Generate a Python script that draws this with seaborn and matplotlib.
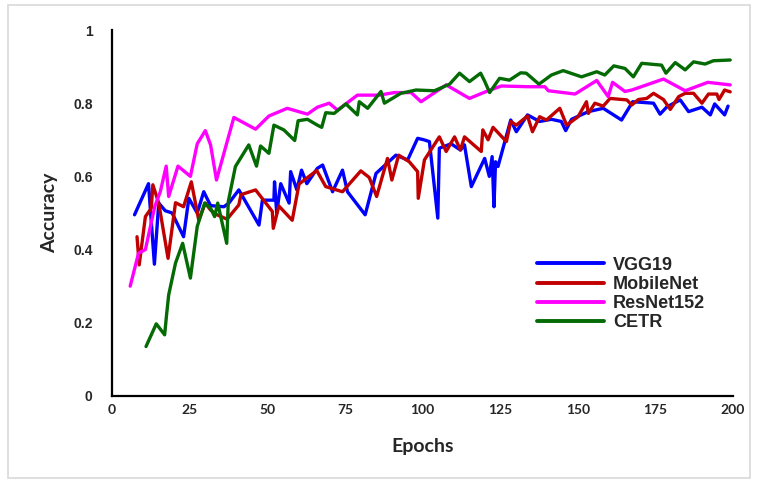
import pandas as pd
import seaborn as sns
import matplotlib.pyplot as plt
from matplotlib.patches import Rectangle

# values
vgg_x = [7.2, 11.7, 13.6, 15, 17.1, 19.3, 23, 24.7, 27.4, 29.5, 31.7, 36, 37.6, 40.8, 47.3,
         48.4, 52.1, 52.3, 53, 54.3, 57, 57.5, 59.5, 61, 62.7, 66.1, 67.8, 71, 74.2, 75.8,
         81.5, 85, 91.4, 95.2, 98.4, 100.4, 102.2, 104.9, 105.4, 109.2, 112.2, 113.5, 115.7,
         120, 121.5, 122.4, 123, 123.5, 124.3, 128.4, 130.2, 133.8, 137.7, 141.5, 144.7,
         146.1, 148, 153.4, 158.2, 164.1, 167.7, 174.4, 176.5, 178.7, 183, 185.7, 190,
         192.7, 194.1, 197.3, 198.4]
vgg_y = [0.495, 0.58, 0.36, 0.527, 0.506, 0.5, 0.435, 0.54, 0.5, 0.558, 0.52, 0.517, 0.527,
         0.563, 0.467, 0.535, 0.535, 0.585, 0.5, 0.58, 0.527, 0.613, 0.563, 0.617, 0.58,
         0.622, 0.631, 0.558, 0.617, 0.558, 0.495, 0.608, 0.658, 0.645, 0.704, 0.7, 0.695,
         0.486, 0.677, 0.689, 0.672, 0.686, 0.572, 0.649, 0.6, 0.654, 0.517, 0.64, 0.627,
         0.754, 0.722, 0.768, 0.75, 0.756, 0.75, 0.725, 0.756, 0.777, 0.786, 0.754, 0.804,
         0.8, 0.77, 0.79, 0.809, 0.777, 0.789, 0.768, 0.798, 0.768, 0.792]

mob_x = [8, 8.7, 10.7, 12.6, 13.1, 15, 18, 20.4, 23, 25.5, 27.9, 30, 31.7, 33.8, 37, 40.8,
         41.5, 46.2, 51.6, 51.9, 53.7, 58, 60.2, 65.9, 68.8, 74.2, 80.1, 82.8, 85.2, 88.7,
         90.1, 92.3, 95.7, 98.4, 98.6, 100.6, 105.4, 107.6, 110.3, 112.2, 113.5, 118.9,
         119.4, 121.1, 122.7, 127, 128.4, 130.2, 133.8, 135.4, 137.7, 139.9, 144.2, 146.4,
         150.1, 152.8, 153.4, 155.5, 158.2, 160.4, 165.8, 167.4, 169.5, 172.2, 174.4,
         177.6, 179.8, 182.5, 184.6, 187.3, 190, 192.1, 194.8, 195.5, 197.3, 199.1]
mob_y = [0.435, 0.358, 0.49, 0.513, 0.577, 0.527, 0.376, 0.528, 0.517, 0.585, 0.48, 0.527,
         0.508, 0.495, 0.483, 0.522, 0.55, 0.563, 0.504, 0.458, 0.519, 0.48, 0.579, 0.616,
         0.572, 0.558, 0.615, 0.597, 0.545, 0.649, 0.59, 0.658, 0.64, 0.613, 0.54, 0.645,
         0.708, 0.668, 0.708, 0.672, 0.708, 0.668, 0.727, 0.7, 0.734, 0.695, 0.75, 0.74,
         0.765, 0.722, 0.763, 0.754, 0.786, 0.74, 0.763, 0.804, 0.772, 0.8, 0.792, 0.813,
         0.809, 0.795, 0.81, 0.813, 0.827, 0.81, 0.783, 0.818, 0.827, 0.827, 0.8, 0.825,
         0.825, 0.81, 0.836, 0.831]

res_x = [5.8, 8.5, 10.7, 13.7, 15.5, 17.4, 18.2, 21.2, 25.2, 27.4, 30, 31.7, 33.6, 39.2,
         46.2, 50.5, 56.4, 62.9, 66.1, 69.9, 72.6, 79, 86, 90.9, 96.3, 99.5, 107.6, 115.1,
         121.1, 125.4, 134, 139.4, 140.5, 149.1, 156.1, 159.8, 161.2, 165.2, 167.4, 177.6,
         184.6, 191.9, 199.1]
res_y = [0.3, 0.39, 0.4, 0.517, 0.558, 0.628, 0.545, 0.628, 0.6, 0.689, 0.725, 0.686, 0.59,
         0.761, 0.729, 0.765, 0.786, 0.77, 0.789, 0.8, 0.781, 0.822, 0.822, 0.829, 0.829,
         0.804, 0.85, 0.813, 0.834, 0.847, 0.845, 0.845, 0.834, 0.825, 0.862, 0.818, 0.857,
         0.832, 0.836, 0.866, 0.834, 0.857, 0.85]

cetr_x = [10.9, 14.2, 16.9, 17.5, 18.2, 20.4, 22.7, 25.2, 27.4, 29.8, 31.7, 33, 34, 36.9,
          37.4, 39.7, 44, 46.5, 47.8, 50.5, 52.1, 55.3, 58.8, 59.9, 62.9, 66.1, 67.5, 68.8,
          71.5, 75.3, 79, 79.6, 82.3, 86.6, 87.7, 93, 97.9, 103.8, 108.7, 111.9, 115.1,
          118.7, 120, 121.6, 124.8, 128, 131.6, 133.4, 137.5, 141.5, 145.3, 151.2, 156.1,
          158.7, 161.6, 165.2, 167.9, 170.6, 177, 178.4, 181.4, 184.6, 187.3, 191, 193.7,
          199.1]
cetr_y = [0.135, 0.197, 0.167, 0.22, 0.276, 0.363, 0.417, 0.322, 0.463, 0.527, 0.513, 0.49,
          0.527, 0.417, 0.531, 0.627, 0.686, 0.628, 0.683, 0.663, 0.74, 0.727, 0.698, 0.752,
          0.756, 0.74, 0.734, 0.774, 0.772, 0.798, 0.768, 0.804, 0.786, 0.832, 0.8, 0.827,
          0.836, 0.834, 0.852, 0.882, 0.859, 0.882, 0.86, 0.829, 0.868, 0.863, 0.883, 0.882,
          0.852, 0.877, 0.889, 0.872, 0.886, 0.877, 0.902, 0.895, 0.872, 0.909, 0.904, 0.882,
          0.911, 0.891, 0.913, 0.907, 0.916, 0.918]

models = ['VGG19', 'MobileNet', 'ResNet152', 'CETR']
colors = {'VGG19': '#0000FF', 'MobileNet': '#C00000', 'ResNet152': '#FF00FF', 'CETR': '#046A04'}
x_ticks = [0, 25, 50, 75, 100, 125, 150, 175, 200]
y_ticks = [0, 0.2, 0.4, 0.6, 0.8, 1]
y_labels = ['0', '0.2', '0.4', '0.6', '0.8', '1']

frames = []
for name, xs, ys in [('VGG19', vgg_x, vgg_y), ('MobileNet', mob_x, mob_y),
                     ('ResNet152', res_x, res_y), ('CETR', cetr_x, cetr_y)]:
    frames.append(pd.DataFrame({'Epochs': xs, 'Accuracy': ys, 'Model': name}))
df = pd.concat(frames, ignore_index=True)

sns.set_style('white')
fig = plt.figure(figsize=(7.58, 4.84), dpi=100)
ax = fig.add_axes([0.148, 0.182, 0.819, 0.756])

sns.lineplot(data=df, x='Epochs', y='Accuracy', hue='Model', hue_order=models,
             palette=colors, estimator=None, sort=False, linewidth=2.4, ax=ax)

ax.set_xlim(0, 200)
ax.set_ylim(0, 1)
ax.set_xticks(x_ticks)
ax.set_xticklabels([str(t) for t in x_ticks], fontfamily='Lato', fontweight='bold', fontsize=10)
ax.set_yticks(y_ticks)
ax.set_yticklabels(y_labels, fontfamily='Liberation Sans', fontweight='bold', fontsize=10)
ax.tick_params(axis='both', length=0)
ax.tick_params(axis='x', pad=6)
ax.tick_params(axis='y', pad=14)
for s in ['top', 'right']:
    ax.spines[s].set_visible(False)
for s in ['left', 'bottom']:
    ax.spines[s].set_color('black')
    ax.spines[s].set_linewidth(1.6)

ax.set_xlabel('Epochs', fontfamily='Lato', fontweight='bold', fontsize=14, labelpad=16)
ax.set_ylabel('Accuracy', fontfamily='Lato', fontweight='bold', fontsize=14, labelpad=11)

leg = ax.legend(loc='upper left', bbox_to_anchor=(0.67, 0.405), frameon=False,
                handlelength=3.7, handletextpad=0.5, labelspacing=0.12, borderpad=0,
                prop={'family': 'Liberation Sans', 'weight': 'bold', 'size': 13})
for line in leg.get_lines():
    line.set_linewidth(2.8)

fig.patches.append(Rectangle((0.011, 0.012), 0.978, 0.978, transform=fig.transFigure,
                             fill=False, edgecolor='#d9d9d9', linewidth=1.2))

fig.savefig('out.png', dpi=100)
